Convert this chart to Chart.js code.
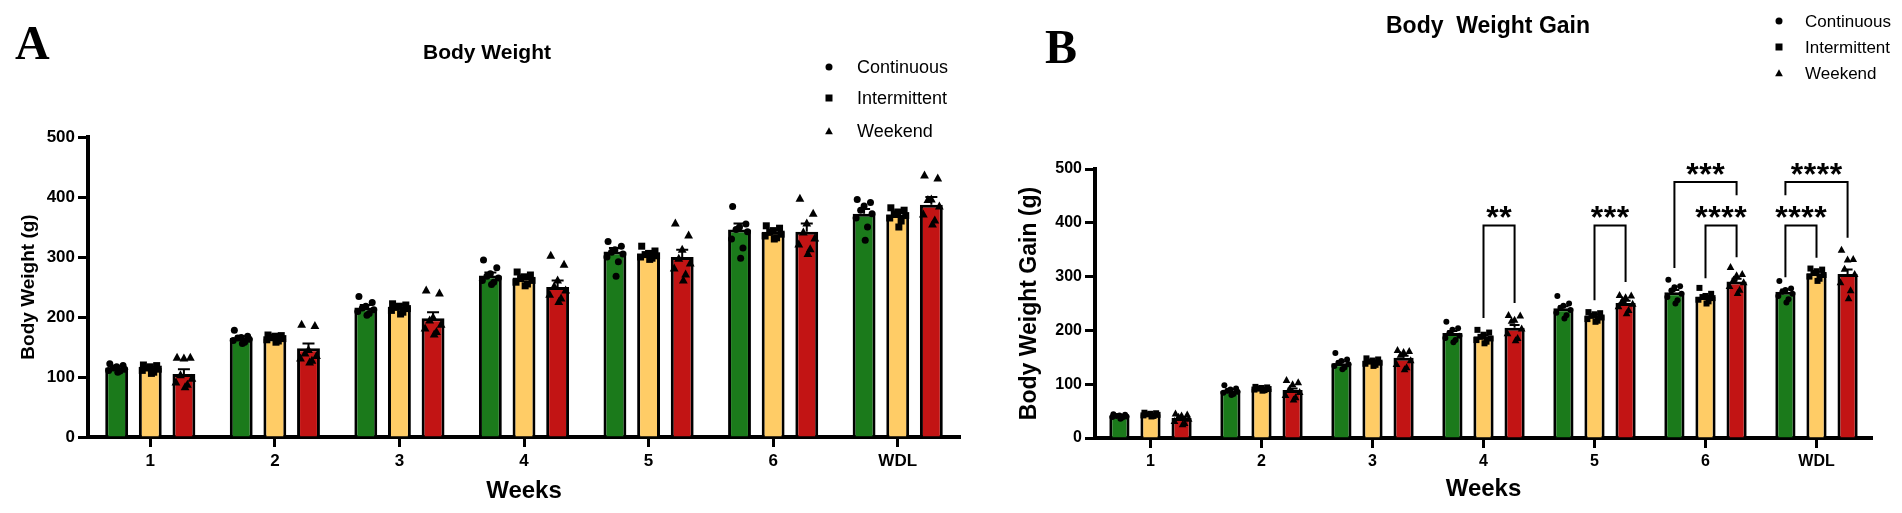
<!DOCTYPE html>
<html>
<head>
<meta charset="utf-8">
<script src="https://cdn.jsdelivr.net/npm/chart.js@4.4.1/dist/chart.umd.min.js"></script>
<style>
    html, body { margin: 0; padding: 0; background: #fff; }
    #wrapA { position: absolute; left: 0; top: 0; }
    #wrapB { position: absolute; left: 970px; top: 0; }
</style>
</head>
<body>
<div id="wrapA"><canvas id="chartA" width="970" height="513"></canvas></div>
<div id="wrapB"><canvas id="chartB" width="932" height="513"></canvas></div>
<script>
// Categories / groups
const categories = ['1', '2', '3', '4', '5', '6', 'WDL'];
const groups = ['Continuous', 'Intermittent', 'Weekend'];
const yTicks = [0, 100, 200, 300, 400, 500];

// A - Body weight (g), mean and SEM per week
const weightCont = [116, 165, 216, 269, 309, 346, 372];
const weightInter = [115, 164, 217, 266, 305, 342, 370];
const weightWeekend = [105, 148, 198, 250, 300, 342, 387];
const weightContSem = [2, 3, 4, 5, 6, 10, 8];
const weightInterSem = [2, 2, 3, 3, 2, 3, 3];
const weightWeekendSem = [8, 8, 10, 11, 12, 14, 13];

// A - individual animals
const weightContPts = [
    [122, 119, 117, 115, 113, 111, 110, 108],
    [178, 168, 166, 165, 163, 161, 158, 156],
    [234, 224, 218, 215, 212, 209, 206, 203],
    [295, 282, 272, 268, 265, 261, 258, 254],
    [326, 318, 312, 308, 305, 300, 292, 268],
    [384, 355, 350, 346, 342, 330, 315, 298],
    [396, 391, 385, 378, 372, 365, 350, 328]
];
const weightInterPts = [
    [120, 119, 117, 115, 113, 111, 108, 106],
    [170, 169, 168, 166, 164, 162, 160, 158],
    [222, 220, 218, 216, 214, 211, 208, 205],
    [275, 270, 267, 264, 261, 258, 255, 252],
    [318, 310, 306, 304, 302, 300, 298, 296],
    [352, 348, 344, 341, 338, 335, 332, 330],
    [382, 378, 375, 372, 369, 365, 360, 350]
];
const weightWeekendPts = [
    [133, 133, 132, 104, 98, 92, 88, 84],
    [188, 186, 146, 140, 136, 132, 128, 125],
    [245, 240, 200, 195, 188, 182, 176, 172],
    [303, 288, 262, 252, 245, 238, 232, 226],
    [357, 337, 313, 298, 290, 282, 272, 262],
    [398, 373, 357, 342, 332, 322, 314, 306],
    [437, 432, 397, 396, 385, 372, 362, 355]
];

// B - Body weight gain (g), mean and SEM per week
const gainCont = [42, 88, 139, 195, 241, 271, 272];
const gainInter = [44, 92, 143, 189, 228, 262, 306];
const gainWeekend = [37, 89, 149, 205, 251, 291, 305];
const gainContSem = [1, 2, 3, 4, 4, 4, 4];
const gainInterSem = [1, 1, 1, 2, 2, 2, 3];
const gainWeekendSem = [2, 3, 4, 5, 4, 5, 8];

const gainContPts = [
    [44, 43, 42, 41, 40, 39, 38, 36],
    [98, 92, 90, 88, 86, 84, 82, 80],
    [158, 146, 143, 140, 137, 134, 131, 128],
    [216, 204, 201, 195, 190, 186, 182, 178],
    [264, 250, 246, 242, 238, 233, 228, 222],
    [294, 282, 280, 274, 268, 262, 256, 250],
    [292, 278, 275, 272, 268, 264, 258, 252]
];
const gainInterPts = [
    [47, 46, 45, 44, 43, 42, 41, 40],
    [95, 94, 93, 92, 91, 90, 89, 88],
    [148, 146, 144, 142, 140, 138, 136, 134],
    [201, 196, 192, 188, 185, 182, 179, 176],
    [234, 232, 230, 227, 224, 221, 218, 216],
    [279, 268, 264, 262, 260, 257, 254, 250],
    [315, 313, 310, 307, 303, 300, 296, 292]
];
const gainWeekendPts = [
    [46, 44, 42, 40, 36, 32, 28, 26],
    [108, 104, 100, 92, 86, 80, 76, 72],
    [164, 162, 160, 155, 145, 138, 132, 128],
    [229, 228, 220, 218, 204, 195, 186, 182],
    [266, 265, 262, 257, 250, 245, 238, 232],
    [318, 305, 303, 295, 290, 283, 276, 270],
    [350, 333, 332, 315, 305, 290, 275, 260]
];

// significance: [week index, from group, to group, bracket top, left leg end, right leg end, label]
const gainBrackets = [
    [3, 1, 2, 395, 223, 251, '**'],
    [4, 1, 2, 395, 256, 290, '***'],
    [5, 0, 2, 476, 316, 451, '***'],
    [5, 1, 2, 395, 297, 336, '****'],
    [6, 0, 2, 476, 451, 372, '****'],
    [6, 0, 1, 395, 299, 335, '****']
];

const GREEN = '#1b7a1b';
const YELLOW = '#ffcc66';
const RED = '#c21414';
const FONT = '"Liberation Sans", Arial, sans-serif';

// spread of the dots across a bar (fraction of bar width)
const JIT = [-0.3, 0.28, 0, -0.15, 0.35, -0.35, 0.15, 0.05];

function drawMarker(ctx, shape, x, y, s) {
    ctx.beginPath();
    if (shape === 0) {
        ctx.arc(x, y, s / 2, 0, Math.PI * 2);
    } else if (shape === 1) {
        ctx.rect(x - s / 2, y - s / 2, s, s);
    } else {
        ctx.moveTo(x, y - s * 0.55);
        ctx.lineTo(x + s * 0.55, y + s * 0.45);
        ctx.lineTo(x - s * 0.55, y + s * 0.45);
        ctx.closePath();
    }
    ctx.fill();
}

const decorPlugin = {
    id: 'decor',
    afterDatasetsDraw(chart, args, opts) {
        const ctx = chart.ctx;
        const yScale = chart.scales.y;
        ctx.save();
        ctx.strokeStyle = '#000';
        ctx.fillStyle = '#000';
        chart.data.datasets.forEach((ds, i) => {
            const meta = chart.getDatasetMeta(i);
            meta.data.forEach((bar, j) => {
                const {x, y, width} = bar.getProps(['x', 'y', 'width'], true);
                // error bar (mean + SEM)
                const top = yScale.getPixelForValue(ds.data[j] + ds.sem[j]);
                ctx.lineWidth = 2;
                ctx.beginPath();
                ctx.moveTo(x, y);
                ctx.lineTo(x, top);
                ctx.moveTo(x - opts.capW / 2, top);
                ctx.lineTo(x + opts.capW / 2, top);
                ctx.stroke();
                // individual animals
                ds.pts[j].forEach((v, k) => {
                    drawMarker(ctx, i, x + JIT[k] * width, yScale.getPixelForValue(v), opts.ptSize[i]);
                });
            });
        });
        ctx.restore();
    },
    afterDraw(chart, args, opts) {
        const ctx = chart.ctx;
        const yScale = chart.scales.y;
        ctx.save();
        ctx.fillStyle = '#000';
        ctx.strokeStyle = '#000';

        // brackets
        (opts.brackets || []).forEach(b => {
            const [cat, g1, g2, topV, leftV, rightV, label] = b;
            const x1 = chart.getDatasetMeta(g1).data[cat].x;
            const x2 = chart.getDatasetMeta(g2).data[cat].x;
            const yt = yScale.getPixelForValue(topV);
            ctx.lineWidth = 2;
            ctx.beginPath();
            ctx.moveTo(x1, yScale.getPixelForValue(leftV));
            ctx.lineTo(x1, yt);
            ctx.lineTo(x2, yt);
            ctx.lineTo(x2, yScale.getPixelForValue(rightV));
            ctx.stroke();
            ctx.font = 'bold 32px ' + FONT;
            ctx.textAlign = 'center';
            ctx.textBaseline = 'alphabetic';
            const n = label.length;
            const cx = (x1 + x2) / 2;
            for (let k = 0; k < n; k++) {
                ctx.fillText('*', cx + (k - (n - 1) / 2) * 13, yt - 15 + 18);
            }
        });

        // legend
        const lg = opts.legend;
        ctx.font = lg.size + 'px ' + FONT;
        ctx.textAlign = 'left';
        ctx.textBaseline = 'alphabetic';
        groups.forEach((g, i) => {
            drawMarker(ctx, i, lg.x, lg.ys[i], 7);
            ctx.fillText(g, lg.textX, lg.ys[i] + lg.size * 0.36);
        });

        // title
        ctx.font = 'bold ' + opts.title.size + 'px ' + FONT;
        ctx.textAlign = 'center';
        ctx.fillText(opts.title.text, opts.title.x, opts.title.y);

        // panel letter
        ctx.font = 'bold 48px "Liberation Serif", "Times New Roman", serif';
        ctx.textAlign = 'left';
        ctx.fillText(opts.letter.text, opts.letter.x, opts.letter.y);
        ctx.restore();
    }
};

function makeDatasets(means, sems, pts, bp, cp) {
    const colors = [GREEN, YELLOW, RED];
    return groups.map((g, i) => ({
        label: g,
        data: means[i],
        sem: sems[i],
        pts: pts[i],
        backgroundColor: colors[i],
        borderColor: '#000',
        borderWidth: 3,
        barPercentage: bp,
        categoryPercentage: cp
    }));
}

function makeOptions(p) {
    return {
        responsive: false,
        animation: false,
        events: [],
        layout: { padding: { top: p.top, right: p.right, bottom: 0, left: 0 } },
        plugins: {
            legend: { display: false },
            tooltip: { enabled: false },
            decor: p.decor
        },
        scales: {
            x: {
                grid: { display: true, drawOnChartArea: false, offset: false, tickLength: 10, tickWidth: 3, tickColor: '#000' },
                border: { display: true, width: 4, color: '#000' },
                ticks: { color: '#000', font: { family: FONT, size: p.tickSize, weight: 'bold' }, padding: 4, maxRotation: 0 },
                title: { display: true, text: 'Weeks', color: '#000', font: { family: FONT, size: 24, weight: 'bold' }, padding: { top: 0, bottom: p.weeksPad } },
                afterFit: s => { s.height = p.xHeight; }
            },
            y: {
                min: 0,
                max: 500,
                grid: { display: true, drawOnChartArea: false, tickLength: 10, tickWidth: 3, tickColor: '#000' },
                border: { display: true, width: 4, color: '#000' },
                ticks: { color: '#000', font: { family: FONT, size: p.tickSize, weight: 'bold' }, padding: 3 },
                afterBuildTicks: s => { s.ticks = yTicks.map(v => ({ value: v })); },
                title: { display: true, text: p.yTitle, color: '#000', font: { family: FONT, size: p.yTitleSize, weight: 'bold' }, padding: { top: p.yTitlePad, bottom: 0 } },
                afterFit: s => { s.width = p.yWidth; }
            }
        }
    };
}

// Panel A
new Chart(document.getElementById('chartA'), {
    type: 'bar',
    data: {
        labels: categories,
        datasets: makeDatasets(
            [weightCont, weightInter, weightWeekend],
            [weightContSem, weightInterSem, weightWeekendSem],
            [weightContPts, weightInterPts, weightWeekendPts],
            0.68, 0.81)
    },
    options: makeOptions({
        top: 137, right: 10, yWidth: 88, xHeight: 76,
        tickSize: 17, weeksPad: 7,
        yTitle: 'Body Weight (g)', yTitleSize: 19, yTitlePad: 17,
        decor: {
            capW: 12,
            ptSize: [7, 7, 8],
            legend: { x: 829, textX: 857, ys: [67, 98, 131], size: 18 },
            title: { text: 'Body Weight', x: 487, y: 59, size: 21 },
            letter: { text: 'A', x: 15, y: 59 }
        }
    }),
    plugins: [decorPlugin]
});

// Panel B
new Chart(document.getElementById('chartB'), {
    type: 'bar',
    data: {
        labels: categories,
        datasets: makeDatasets(
            [gainCont, gainInter, gainWeekend],
            [gainContSem, gainInterSem, gainWeekendSem],
            [gainContPts, gainInterPts, gainWeekendPts],
            0.65, 0.84)
    },
    options: makeOptions({
        top: 169, right: 30, yWidth: 125, xHeight: 75,
        tickSize: 16, weeksPad: 9,
        yTitle: 'Body Weight Gain (g)', yTitleSize: 23, yTitlePad: 46,
        decor: {
            capW: 10,
            ptSize: [6, 6, 7],
            brackets: gainBrackets,
            legend: { x: 809, textX: 835, ys: [21, 47, 73], size: 17 },
            title: { text: 'Body  Weight Gain', x: 518, y: 33, size: 23 },
            letter: { text: 'B', x: 75, y: 63 }
        }
    }),
    plugins: [decorPlugin]
});
</script>
</body>
</html>
